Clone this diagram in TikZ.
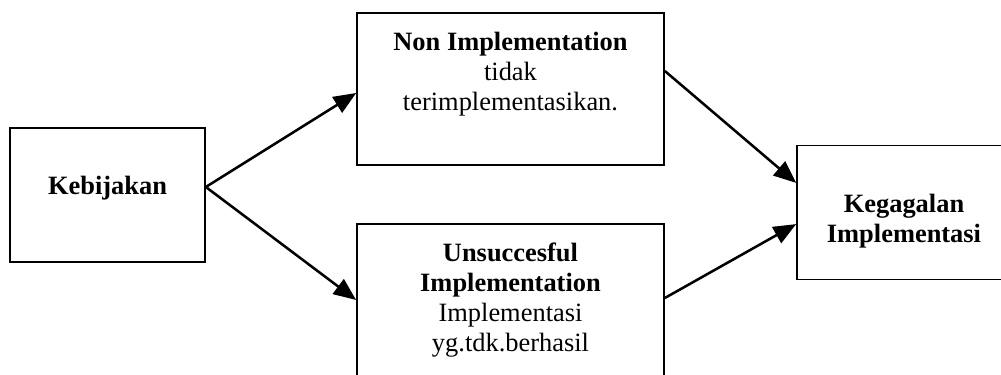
\documentclass[tikz,border=0pt]{standalone}
\usepackage{fontspec}
\setmainfont{Liberation Serif}
\usetikzlibrary{arrows.meta, positioning, calc}
\tikzstyle{block} = [rectangle, draw=black, line width=1.2pt, text centered, align=center, font=\fontsize{18.8}{21.3}\selectfont, minimum width=4.875cm, minimum height=3.35cm]
\tikzstyle{tallblock} = [block, minimum width=7.675cm, minimum height=3.8cm]
\tikzstyle{myarrow} = [-{Triangle[length=16pt,width=13pt]}, line width=1.8pt]

\begin{document}
\begin{tikzpicture}
\useasboundingbox (0,0) rectangle (25.025,9.35);
\node(kebijakan)[block, text height=0.45cm, text depth=0.45cm] at (2.6875,4.475) {\textbf{Kebijakan}};
\node(nonimpl)[tallblock] at (12.7625,7.125) {\textbf{Non Implementation}\\tidak\\terimplementasikan.\rule[-0.9cm]{0pt}{0.9cm}};
\node(unsucc)[tallblock] at (12.7625,1.85) {\textbf{Unsuccesful}\\\textbf{Implementation}\\Implementasi\\yg.tdk.berhasil};
\node(gagal)[block, minimum width=5.35cm] at (22.6,4.0375) {\rule{0pt}{0.875cm}\textbf{Kegagalan}\\\textbf{Implementasi}};
\draw [myarrow]  ([yshift=0.2cm]kebijakan.east)  --  ([yshift=-0.1cm]nonimpl.west);
\draw [myarrow]  ([yshift=0.2cm]kebijakan.east)  --  (unsucc.west);
\draw [myarrow]  ([yshift=0.45cm]nonimpl.east)  --  ([yshift=0.74cm]gagal.west);
\draw [myarrow]  ([yshift=0.05cm]unsucc.east)  --  ([yshift=-0.29cm]gagal.west);
\end{tikzpicture}
\end{document}
